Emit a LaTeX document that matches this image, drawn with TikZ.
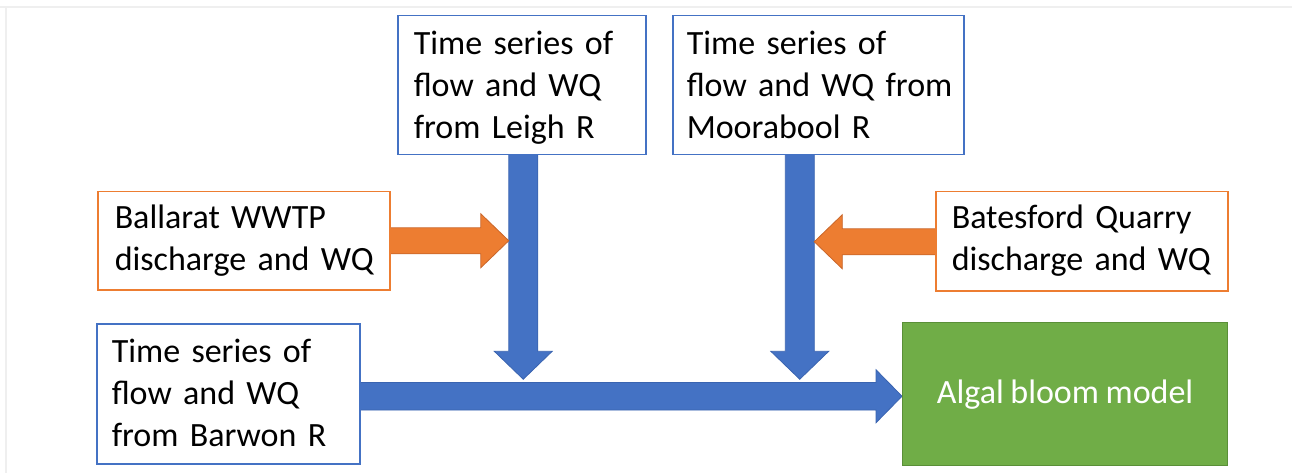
\documentclass[tikz,border=0pt]{standalone}
\usepackage{fontspec}
\setmainfont{Carlito}[WordSpace=0.85]
\usetikzlibrary{calc,backgrounds}
\definecolor{bblue}{HTML}{4472C4}
\definecolor{bblueline}{HTML}{3A64B0}
\definecolor{borange}{HTML}{ED7D31}
\definecolor{borangeline}{HTML}{C9662A}
\definecolor{bgreen}{HTML}{70AD47}
\definecolor{bgreenline}{HTML}{5A8F38}
\definecolor{framegray}{HTML}{EFEFEF}
\begin{document}
\begin{tikzpicture}[x=1pt,y=-1pt,
  every node/.style={font=\fontsize{34}{42}\selectfont},
  box/.style={draw, line width=1.5pt, fill=white, anchor=north west, align=left,
              inner ysep=0pt, text=black},
  bluebox/.style={box, draw=bblue},
  orangebox/.style={box, draw=borange},
  blockarrow/.style n args={3}{to path={
    let \p1=($(\tikztotarget)-(\tikztostart)$),
        \n1={veclen(\x1,\y1)}, \n2={atan2(\y1,\x1)} in
    ([shift={(\tikztostart)},rotate=\n2]0pt,#1pt)
    -- ([shift={(\tikztostart)},rotate=\n2]\n1-#3pt,#1pt)
    -- ([shift={(\tikztostart)},rotate=\n2]\n1-#3pt,#2pt)
    -- ([shift={(\tikztostart)},rotate=\n2]\n1,0pt)
    -- ([shift={(\tikztostart)},rotate=\n2]\n1-#3pt,-#2pt)
    -- ([shift={(\tikztostart)},rotate=\n2]\n1-#3pt,-#1pt)
    -- ([shift={(\tikztostart)},rotate=\n2]0pt,-#1pt) -- cycle}},
  bluearrow/.style={fill=bblue, draw=bblueline, line width=0.8pt, line join=miter},
  orangearrow/.style={fill=borange, draw=borangeline, line width=0.8pt, line join=miter},
  framel/.style={draw=framegray, line width=2pt}
]
\useasboundingbox (0,0) rectangle (1292,473);

% boxes
\node[bluebox, text width=216pt, inner xsep=16pt, text height=39pt, text depth=100pt]
  (leigh) at (397,15) {\mbox{Time series of}\\\mbox{flow and WQ}\\\mbox{from Leigh R}};
\node[bluebox, text width=263pt, inner xsep=14pt, text height=39pt, text depth=100pt]
  (moor) at (672,15) {\mbox{Time series of}\\\mbox{flow and WQ from}\\\mbox{Moorabool R}};
\node[orangebox, text width=258pt, inner xsep=17pt, text height=37pt, text depth=61pt]
  (ball) at (97,191) {\mbox{Ballarat WWTP}\\\mbox{discharge and WQ}};
\node[orangebox, text width=260pt, inner xsep=16pt, text height=37pt, text depth=62pt]
  (bate) at (935,191) {\mbox{Batesford Quarry}\\\mbox{discharge and WQ}};
\node[bluebox, text width=233pt, inner xsep=15pt, text height=39pt, text depth=101pt]
  (barwon) at (96,323) {\mbox{Time series of}\\\mbox{flow and WQ}\\\mbox{from Barwon R}};
\node[draw=bgreenline, fill=bgreen, line width=1.3pt, anchor=north west, inner sep=0pt,
      minimum width=325pt, minimum height=143pt, text=white]
  (algal) at (902,322) {\raisebox{-2pt}{Algal bloom model}};

% connector end points
\coordinate (hs) at ($(barwon.east)+(-2,2.5)$);
\coordinate (he) at (algal.west |- hs);
\coordinate (lt) at ($(leigh.south)+(1.5,-2)$);
\coordinate (lj) at ($(lt |- hs)+(0,-17)$);
\coordinate (mt) at ($(moor.south)+(-18.5,-2)$);
\coordinate (mj) at ($(mt |- hs)+(0,-17)$);
\coordinate (bs) at ($(ball.east)+(-2,0)$);
\coordinate (bj) at ($(lt |- bs)+(-14.5,0)$);
\coordinate (qs) at ($(bate.west)+(2,0.5)$);
\coordinate (qj) at ($(mt |- qs)+(14.5,0)$);

\begin{pgfonlayer}{background}
  \path[framel] (0,7) -- (1292,7);
  \path[framel] (6,7) -- (6,473);
  \draw[bluearrow, blockarrow={13.75}{26.5}{26}] (hs) to (he);
  \draw[bluearrow, blockarrow={14.5}{29}{28}] (lt) to (lj);
  \draw[bluearrow, blockarrow={14.5}{29}{28}] (mt) to (mj);
  \draw[orangearrow, blockarrow={13}{27}{28}] (bs) to (bj);
  \draw[orangearrow, blockarrow={13}{27}{28}] (qs) to (qj);
\end{pgfonlayer}
\end{tikzpicture}
\end{document}
